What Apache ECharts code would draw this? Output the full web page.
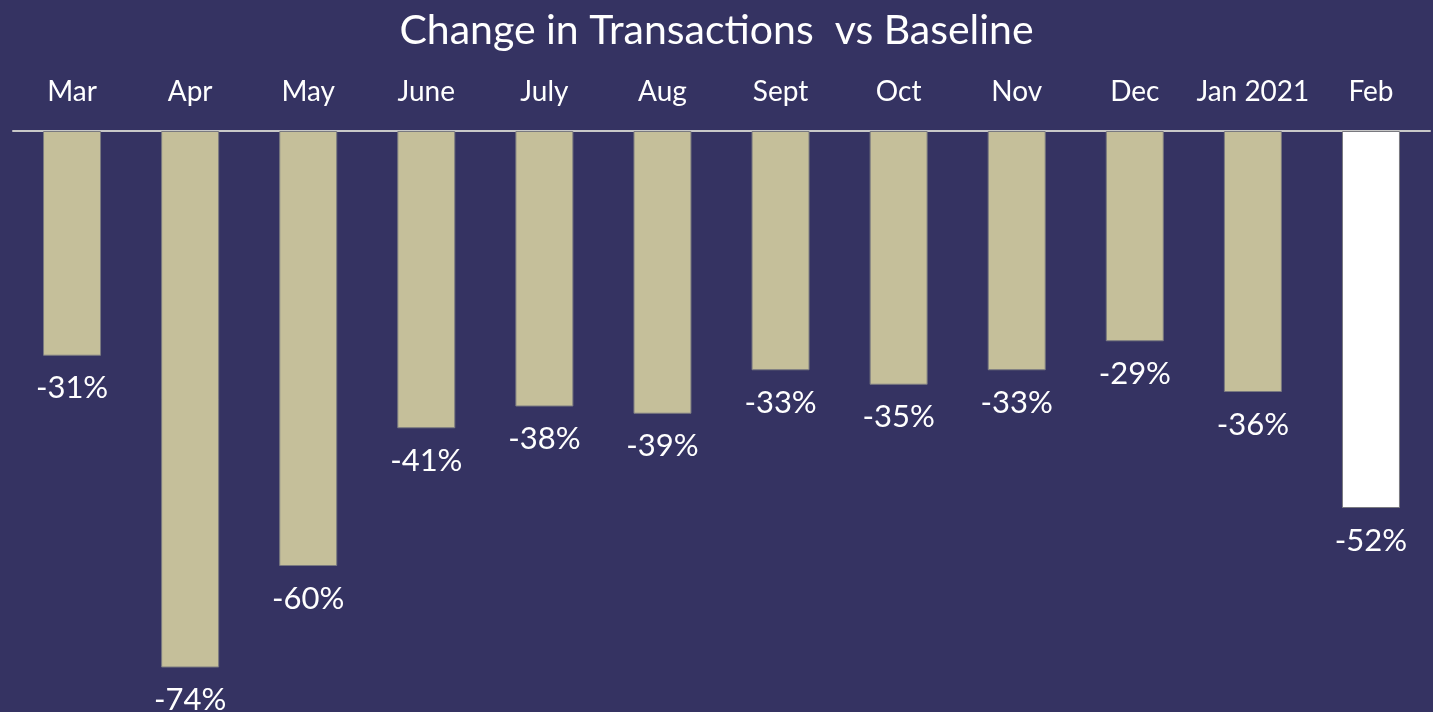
<!DOCTYPE html>
<html>
<head>
<meta charset="utf-8">
<script src="https://cdn.jsdelivr.net/npm/echarts@6/dist/echarts.min.js"></script>
<style>
  html, body { margin: 0; padding: 0; background: #353362; }
  #chart { width: 1433px; height: 712px; }
</style>
</head>
<body>
<div id="chart"></div>
<script>
// months since Mar 2020
const months = ['Mar', 'Apr', 'May', 'June', 'July', 'Aug', 'Sept', 'Oct', 'Nov', 'Dec', 'Jan 2021', 'Feb']
// % change vs baseline
const changePct = [-31, -74, -60, -41, -38, -39, -33, -35, -33, -29, -36, -52]
const highlightIdx = 11 // latest month in white

const chart = echarts.init(document.getElementById('chart'))

chart.setOption({
  backgroundColor: '#353362',
  textStyle: { fontFamily: 'Lato' },
  title: {
    text: 'Change in Transactions  vs Baseline',
    left: 'center',
    top: 5,
    textStyle: { color: '#ffffff', fontSize: 41, fontWeight: 'normal', fontFamily: 'Lato' }
  },
  grid: { left: 13, right: 3, top: 131, height: 580 },
  xAxis: {
    type: 'category',
    position: 'top',
    data: months,
    axisLine: { lineStyle: { color: '#c8c8c8', width: 2 } },
    axisTick: { show: false },
    axisLabel: { color: '#ffffff', fontSize: 28, margin: 25, interval: 0 }
  },
  yAxis: {
    type: 'value',
    min: -80,
    max: 0,
    show: false,
    splitLine: { show: false }
  },
  series: [{
    type: 'bar',
    barWidth: 58,
    data: changePct.map((v, i) => ({
      value: v,
      itemStyle: { color: i === highlightIdx ? '#ffffff' : '#c5bf9a' }
    })),
    itemStyle: { borderColor: '#7a7a80', borderWidth: 1 },
    label: {
      show: true,
      position: 'bottom',
      distance: 17,
      formatter: '{c}%',
      color: '#ffffff',
      fontSize: 31
    },
    animation: false
  }]
})
</script>
</body>
</html>
